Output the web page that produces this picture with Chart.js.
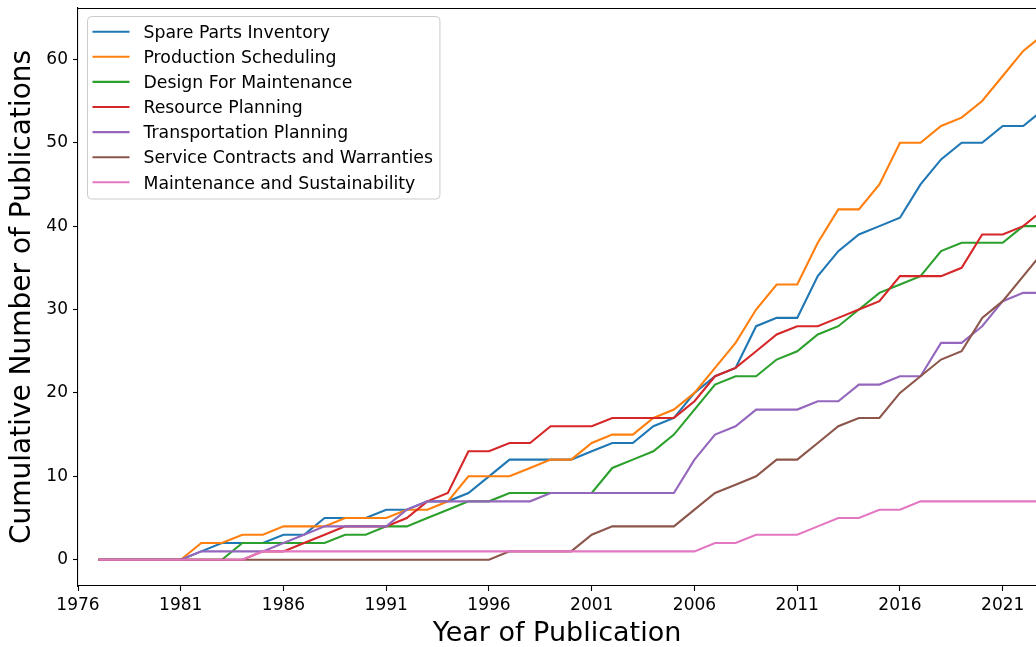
<!DOCTYPE html>
<html>
<head>
<meta charset="utf-8">
<title>Cumulative Number of Publications</title>
<script src="https://cdn.jsdelivr.net/npm/chart.js@4.4.1/dist/chart.umd.min.js"></script>
<style>
  html, body { margin: 0; padding: 0; background: #fff; }
  #wrap { width: 1036px; height: 647px; position: relative; }
</style>
</head>
<body>
<div id="wrap"><canvas id="pubChart"></canvas></div>
<script>
// data
const years = [1977, 1978, 1979, 1980, 1981, 1982, 1983, 1984, 1985, 1986,
  1987, 1988, 1989, 1990, 1991, 1992, 1993, 1994, 1995, 1996,
  1997, 1998, 1999, 2000, 2001, 2002, 2003, 2004, 2005, 2006,
  2007, 2008, 2009, 2010, 2011, 2012, 2013, 2014, 2015, 2016,
  2017, 2018, 2019, 2020, 2021, 2022, 2023];

const sparePartsInventory = [0, 0, 0, 0, 0, 1, 2, 2, 2, 3,
  3, 5, 5, 5, 6, 6, 7, 7, 8, 10,
  12, 12, 12, 12, 13, 14, 14, 16, 17, 20,
  22, 23, 28, 29, 29, 34, 37, 39, 40, 41,
  45, 48, 50, 50, 52, 52, 54];
const productionScheduling = [0, 0, 0, 0, 0, 2, 2, 3, 3, 4,
  4, 4, 5, 5, 5, 6, 6, 7, 10, 10,
  10, 11, 12, 12, 14, 15, 15, 17, 18, 20,
  23, 26, 30, 33, 33, 38, 42, 42, 45, 50,
  50, 52, 53, 55, 58, 61, 63];
const designForMaintenance = [0, 0, 0, 0, 0, 0, 0, 2, 2, 2,
  2, 2, 3, 3, 4, 4, 5, 6, 7, 7,
  8, 8, 8, 8, 8, 11, 12, 13, 15, 18,
  21, 22, 22, 24, 25, 27, 28, 30, 32, 33,
  34, 37, 38, 38, 38, 40, 40];
const resourcePlanning = [0, 0, 0, 0, 0, 0, 0, 0, 1, 1,
  2, 3, 4, 4, 4, 5, 7, 8, 13, 13,
  14, 14, 16, 16, 16, 17, 17, 17, 17, 19,
  22, 23, 25, 27, 28, 28, 29, 30, 31, 34,
  34, 34, 35, 39, 39, 40, 42];
const transportationPlanning = [0, 0, 0, 0, 0, 1, 1, 1, 1, 2,
  3, 4, 4, 4, 4, 6, 7, 7, 7, 7,
  7, 7, 8, 8, 8, 8, 8, 8, 8, 12,
  15, 16, 18, 18, 18, 19, 19, 21, 21, 22,
  22, 26, 26, 28, 31, 32, 32];
const serviceContracts = [0, 0, 0, 0, 0, 0, 0, 0, 0, 0,
  0, 0, 0, 0, 0, 0, 0, 0, 0, 0,
  1, 1, 1, 1, 3, 4, 4, 4, 4, 6,
  8, 9, 10, 12, 12, 14, 16, 17, 17, 20,
  22, 24, 25, 29, 31, 34, 37];
const maintenanceSustainability = [0, 0, 0, 0, 0, 0, 0, 0, 1, 1,
  1, 1, 1, 1, 1, 1, 1, 1, 1, 1,
  1, 1, 1, 1, 1, 1, 1, 1, 1, 1,
  2, 2, 3, 3, 3, 4, 5, 5, 6, 6,
  7, 7, 7, 7, 7, 7, 7];

const seriesNames = ['Spare Parts Inventory', 'Production Scheduling', 'Design For Maintenance',
  'Resource Planning', 'Transportation Planning', 'Service Contracts and Warranties',
  'Maintenance and Sustainability'];
const seriesValues = [sparePartsInventory, productionScheduling, designForMaintenance,
  resourcePlanning, transportationPlanning, serviceContracts, maintenanceSustainability];
const seriesColors = ['#1f77b4', '#ff7f0e', '#2ca02c', '#d62728', '#9467bd', '#8c564b', '#e377c2'];

const xTickLabels = [1976, 1981, 1986, 1991, 1996, 2001, 2006, 2011, 2016, 2021];
const yTickLabels = [0, 10, 20, 30, 40, 50, 60];

const FONT = '"DejaVu Sans", "Liberation Sans", sans-serif';

// legend box inside the axes + top spine, like matplotlib
const legendBox = {
  id: 'legendBox',
  afterDraw(chart) {
    const { ctx, chartArea } = chart;
    ctx.save();
    ctx.strokeStyle = '#000';
    ctx.lineWidth = 1.1;
    ctx.beginPath();
    ctx.moveTo(chartArea.left, chartArea.top + 0.5);
    ctx.lineTo(chartArea.right, chartArea.top + 0.5);
    ctx.stroke();

    ctx.font = '17.3px ' + FONT;
    let maxW = 0;
    chart.data.datasets.forEach(ds => { maxW = Math.max(maxW, ctx.measureText(ds.label).width); });
    const left = chartArea.left + 9.5;
    const top = chartArea.top + 8.5;
    const w = 56 + maxW + 7;
    const h = 182.5;
    ctx.beginPath();
    ctx.roundRect(left, top, w, h, 4);
    ctx.fillStyle = 'rgba(255,255,255,0.8)';
    ctx.fill();
    ctx.strokeStyle = '#cccccc';
    ctx.lineWidth = 1;
    ctx.stroke();

    chart.data.datasets.forEach((ds, i) => {
      const cy = top + 15.2 + i * 25.1;
      ctx.strokeStyle = ds.borderColor;
      ctx.lineWidth = 2.1;
      ctx.beginPath();
      ctx.moveTo(left + 5, cy);
      ctx.lineTo(left + 42, cy);
      ctx.stroke();
      ctx.fillStyle = '#000';
      ctx.textBaseline = 'alphabetic';
      ctx.textAlign = 'left';
      ctx.fillText(ds.label, left + 56, cy + 6.2);
    });
    ctx.restore();
  }
};

const ctx = document.getElementById('pubChart').getContext('2d');
new Chart(ctx, {
  type: 'line',
  data: {
    datasets: seriesNames.map((name, i) => ({
      label: name,
      data: years.map((yr, j) => ({ x: yr, y: seriesValues[i][j] })),
      borderColor: seriesColors[i],
      backgroundColor: seriesColors[i],
      borderWidth: 2.1,
      pointRadius: 0,
      tension: 0,
      fill: false,
      order: -i
    }))
  },
  options: {
    responsive: true,
    maintainAspectRatio: false,
    devicePixelRatio: 1,
    animation: false,
    layout: { padding: { top: 8, right: 0, bottom: 0, left: 0 } },
    plugins: {
      legend: { display: false },
      tooltip: { enabled: false }
    },
    scales: {
      x: {
        type: 'linear',
        min: 1976,
        max: 2022.62,
        afterBuildTicks: scale => { scale.ticks = xTickLabels.map(v => ({ value: v })); },
        afterFit: scale => { scale.height = 61; scale.paddingLeft = 0; scale.paddingRight = 0; },
        ticks: {
          color: '#000',
          font: { family: FONT, size: 17 },
          padding: 4,
          maxRotation: 0,
          autoSkip: false,
          callback: v => String(v)
        },
        grid: { display: true, drawOnChartArea: false, drawTicks: true, tickLength: 5, color: '#000', tickWidth: 1.1 },
        border: { display: true, color: '#000', width: 1.1 },
        title: {
          display: true,
          text: 'Year of Publication',
          color: '#000',
          font: { family: FONT, size: 27, lineHeight: 1 },
          padding: { top: 0, bottom: 0 }
        }
      },
      y: {
        min: -3.15,
        max: 66.15,
        afterBuildTicks: scale => { scale.ticks = yTickLabels.map(v => ({ value: v })); },
        afterFit: scale => { scale.width = 78; scale.paddingTop = 0; scale.paddingBottom = 0; },
        ticks: {
          color: '#000',
          font: { family: FONT, size: 17 },
          padding: 5,
          callback: v => String(v)
        },
        grid: { display: true, drawOnChartArea: false, drawTicks: true, tickLength: 5, color: '#000', tickWidth: 1.1 },
        border: { display: true, color: '#000', width: 1.1 },
        title: {
          display: true,
          text: 'Cumulative Number of Publications',
          color: '#000',
          font: { family: FONT, size: 28, lineHeight: 1 },
          padding: { top: 9, bottom: 0 }
        }
      }
    }
  },
  plugins: [legendBox]
});
</script>
</body>
</html>
